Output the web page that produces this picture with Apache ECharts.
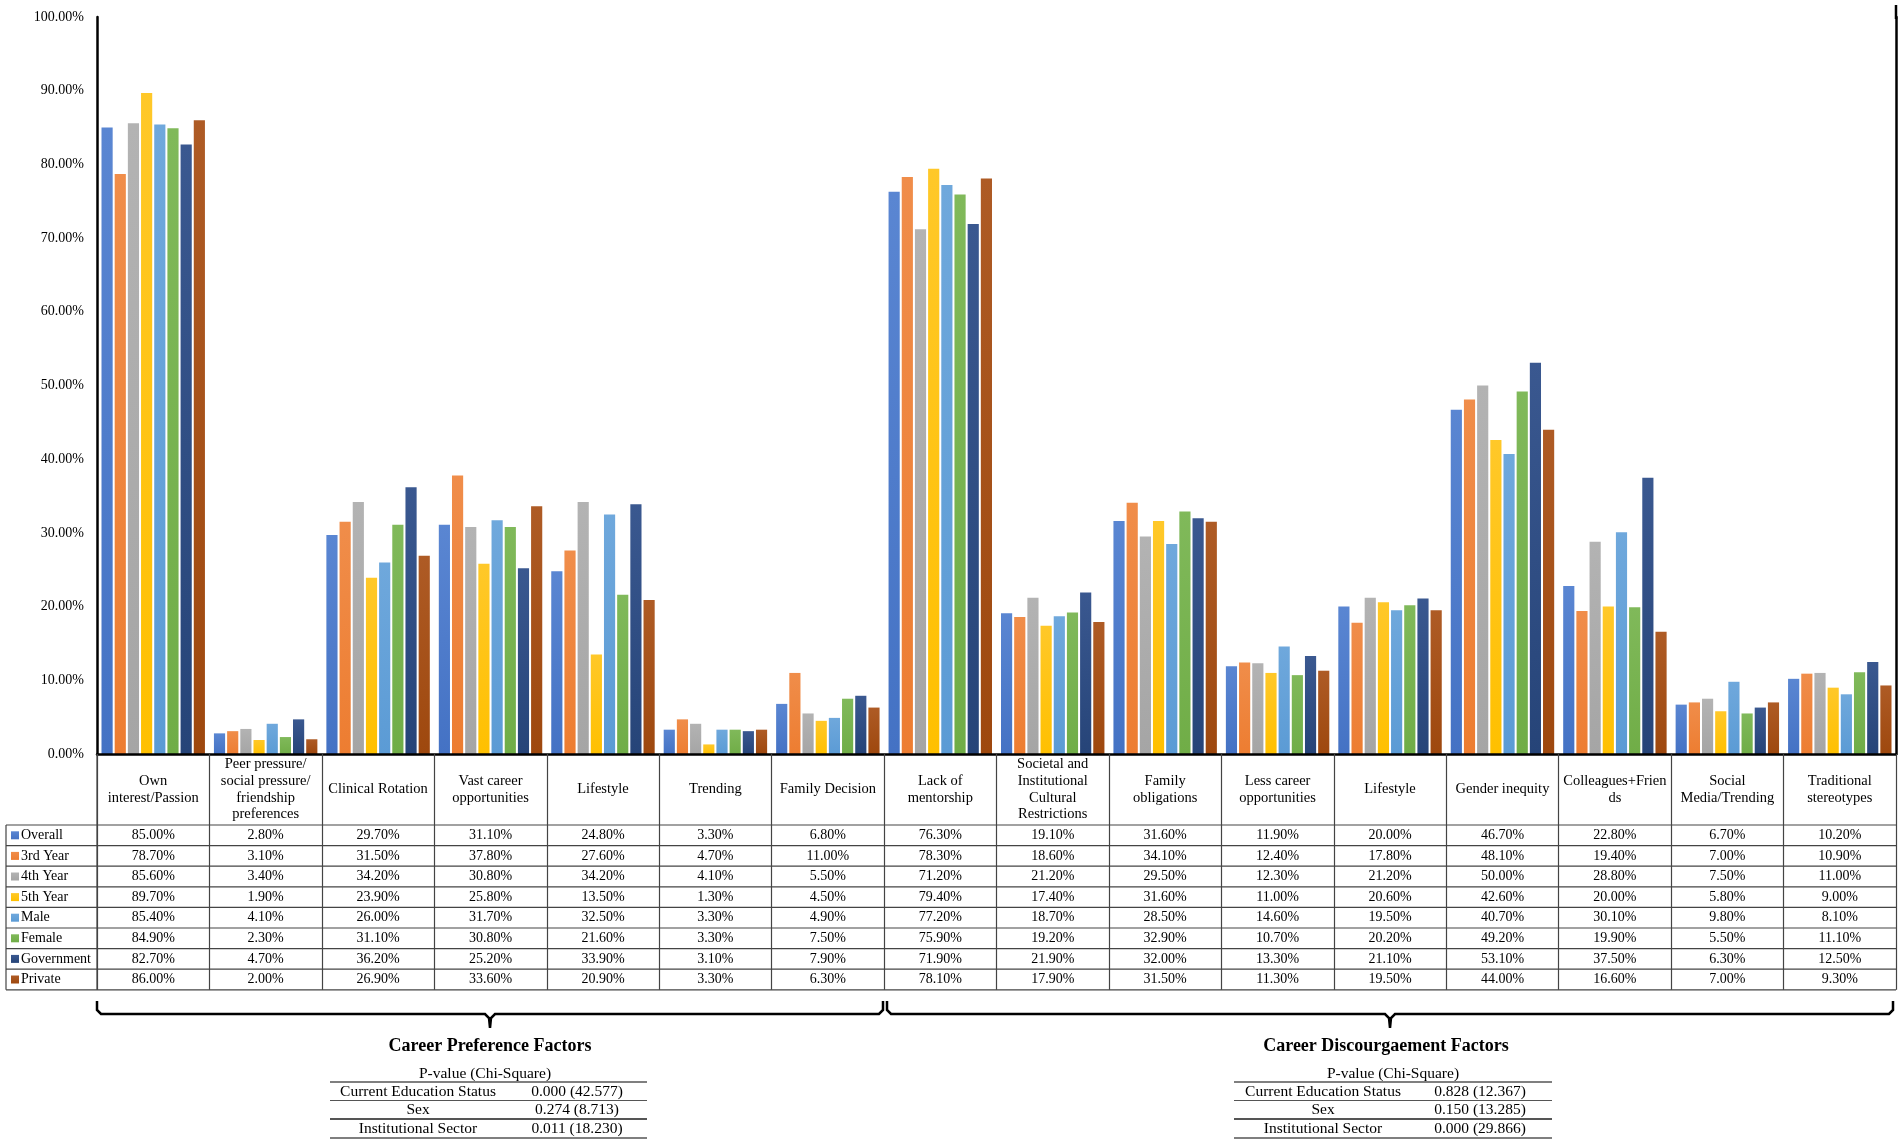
<!DOCTYPE html>
<html>
<head>
<meta charset="utf-8">
<script src="https://cdn.jsdelivr.net/npm/echarts@6/dist/echarts.min.js"></script>
<style>
html,body{margin:0;padding:0;background:#fff;}
#main{width:1902px;height:1145px;}
</style>
</head>
<body>
<div id="main"></div>
<script>
// ---------------- DATA ----------------
var categories = [
  "Own\ninterest/Passion",
  "Peer pressure/\nsocial pressure/\nfriendship\npreferences",
  "Clinical Rotation",
  "Vast career\nopportunities",
  "Lifestyle",
  "Trending",
  "Family Decision",
  "Lack of\nmentorship",
  "Societal and\nInstitutional\nCultural\nRestrictions",
  "Family\nobligations",
  "Less career\nopportunities",
  "Lifestyle",
  "Gender inequity",
  "Colleagues+Frien\nds",
  "Social\nMedia/Trending",
  "Traditional\nstereotypes"
];
var seriesNames = ["Overall", "3rd Year", "4th Year", "5th Year", "Male", "Female", "Government", "Private"];
var overall    = [85.00, 2.80, 29.70, 31.10, 24.80, 3.30, 6.80, 76.30, 19.10, 31.60, 11.90, 20.00, 46.70, 22.80, 6.70, 10.20];
var year3      = [78.70, 3.10, 31.50, 37.80, 27.60, 4.70, 11.00, 78.30, 18.60, 34.10, 12.40, 17.80, 48.10, 19.40, 7.00, 10.90];
var year4      = [85.60, 3.40, 34.20, 30.80, 34.20, 4.10, 5.50, 71.20, 21.20, 29.50, 12.30, 21.20, 50.00, 28.80, 7.50, 11.00];
var year5      = [89.70, 1.90, 23.90, 25.80, 13.50, 1.30, 4.50, 79.40, 17.40, 31.60, 11.00, 20.60, 42.60, 20.00, 5.80, 9.00];
var male       = [85.40, 4.10, 26.00, 31.70, 32.50, 3.30, 4.90, 77.20, 18.70, 28.50, 14.60, 19.50, 40.70, 30.10, 9.80, 8.10];
var female     = [84.90, 2.30, 31.10, 30.80, 21.60, 3.30, 7.50, 75.90, 19.20, 32.90, 10.70, 20.20, 49.20, 19.90, 5.50, 11.10];
var government = [82.70, 4.70, 36.20, 25.20, 33.90, 3.10, 7.90, 71.90, 21.90, 32.00, 13.30, 21.10, 53.10, 37.50, 6.30, 12.50];
var privateSec = [86.00, 2.00, 26.90, 33.60, 20.90, 3.30, 6.30, 78.10, 17.90, 31.50, 11.30, 19.50, 44.00, 16.60, 7.00, 9.30];
var yTicks = [0, 10, 20, 30, 40, 50, 60, 70, 80, 90, 100];

var groupTitles = ["Career Preference Factors", "Career Discourgaement Factors"];
var pHeader = "P-value (Chi-Square)";
var pLabels = ["Current Education Status", "Sex", "Institutional Sector"];
var pValuesPref = ["0.000 (42.577)", "0.274 (8.713)", "0.011 (18.230)"];
var pValuesDisc = ["0.828 (12.367)", "0.150 (13.285)", "0.000 (29.866)"];

// ---------------- STYLE ----------------
var allSeries = [overall, year3, year4, year5, male, female, government, privateSec];
var baseColors = ["#4472C4", "#ED7D31", "#A5A5A5", "#FFC000", "#5B9BD5", "#70AD47", "#264478", "#9E480E"];
var topColors  = ["#5A86D2", "#F08D4A", "#B3B3B3", "#FFC829", "#6FA8DC", "#80B95A", "#3A5890", "#AE5B25"];
var FONT = "Liberation Serif";

var chart = echarts.init(document.getElementById('main'), null, {renderer: 'canvas'});

var GRID_LEFT = 97, GRID_RIGHT = 6, GRID_TOP = 17, GRID_BOTTOM_Y = 754;
var HEADER_H = 71, ROW_H = 20.6;
var TABLE_TOP = GRID_BOTTOM_Y + HEADER_H; // 825
var TABLE_BOTTOM = TABLE_TOP + ROW_H * 8;

var xAxes = [{
  type: 'category',
  data: categories,
  gridIndex: 0,
  position: 'bottom',
  boundaryGap: true,
  axisLine: {show: true, lineStyle: {color: '#000', width: 2.5}},
  axisTick: {show: true, interval: 0, length: TABLE_BOTTOM - GRID_BOTTOM_Y, lineStyle: {color: '#444', width: 1.2}},
  axisLabel: {
    interval: 0, margin: HEADER_H / 2, verticalAlign: 'middle', align: 'center',
    fontFamily: FONT, fontSize: 14.5, lineHeight: 16.6, color: '#000'
  },
  z: 5
}];
for (var r = 0; r < 8; r++) {
  (function (rowIdx) {
    xAxes.push({
      type: 'category',
      data: categories,
      gridIndex: 0,
      position: 'bottom',
      offset: HEADER_H + rowIdx * ROW_H,
      axisLine: {show: false},
      axisTick: {show: false},
      axisLabel: {
        interval: 0, margin: ROW_H / 2, verticalAlign: 'middle', align: 'center',
        fontFamily: FONT, fontSize: 14, color: '#000',
        formatter: function (v, idx) { return allSeries[rowIdx][idx].toFixed(2) + '%'; }
      }
    });
  })(r);
}

var series = seriesNames.map(function (name, i) {
  return {
    name: name,
    type: 'bar',
    xAxisIndex: 0,
    yAxisIndex: 0,
    data: allSeries[i],
    barCategoryGap: '8%',
    barGap: '18%',
    itemStyle: {
      color: {type: 'linear', x: 0, y: 0, x2: 0, y2: 1,
        colorStops: [{offset: 0, color: topColors[i]}, {offset: 1, color: baseColors[i]}]}
    }
  };
});

// graphic: table lines, braces, titles, p-value tables
var graphics = [];
for (var k = 0; k <= 8; k++) {
  var yy = TABLE_TOP + k * ROW_H;
  graphics.push({type: 'line', shape: {x1: 6, y1: yy, x2: 1902 - GRID_RIGHT, y2: yy},
    style: {stroke: '#444', lineWidth: 1.2}, z: 10});
}
graphics.push({type: 'line', shape: {x1: 6, y1: TABLE_TOP, x2: 6, y2: TABLE_BOTTOM},
  style: {stroke: '#444', lineWidth: 1.2}, z: 10});
graphics.push({type: 'line', shape: {x1: GRID_LEFT, y1: GRID_BOTTOM_Y, x2: GRID_LEFT, y2: TABLE_BOTTOM},
  style: {stroke: '#444', lineWidth: 1.2}, z: 10});
// right frame line reaches slightly above the plot top
graphics.push({type: 'line', shape: {x1: 1902 - GRID_RIGHT, y1: 5, x2: 1902 - GRID_RIGHT, y2: GRID_TOP + 2},
  style: {stroke: '#000', lineWidth: 2.5}, z: 10});

function brace(x1, x2, yTop, yLine, yTip) {
  var c = (x1 + x2) / 2;
  return {type: 'polyline', shape: {points: [
    [x1, yTop], [x1, yLine - 4], [x1 + 4, yLine], [c - 5, yLine], [c - 1, yLine + 4], [c, yTip],
    [c + 1, yLine + 4], [c + 5, yLine], [x2 - 4, yLine], [x2, yLine - 4], [x2, yTop]
  ]}, style: {stroke: '#000', lineWidth: 2.5, fill: null}, z: 10};
}
graphics.push(brace(97, 883, 1001, 1014, 1028));
graphics.push(brace(887, 1893, 1001, 1014, 1028));

graphics.push({type: 'text', x: 490, y: 1046, style: {text: groupTitles[0], font: 'bold 18px "Liberation Serif"', fill: '#000', textAlign: 'center', textVerticalAlign: 'middle'}});
graphics.push({type: 'text', x: 1386, y: 1046, style: {text: groupTitles[1], font: 'bold 18px "Liberation Serif"', fill: '#000', textAlign: 'center', textVerticalAlign: 'middle'}});

function pTable(xl, xr, hx, labelX, valueX, vals) {
  graphics.push({type: 'text', x: hx, y: 1074, style: {text: pHeader, font: '15.5px "Liberation Serif"', fill: '#000', textAlign: 'center', textVerticalAlign: 'middle'}});
  var lineYs = [1082, 1100.5, 1119, 1138];
  var widths = [1.5, 1.2, 2.2, 1.5];
  lineYs.forEach(function (ly, i) {
    graphics.push({type: 'line', shape: {x1: xl, y1: ly, x2: xr, y2: ly}, style: {stroke: '#555', lineWidth: widths[i]}});
  });
  var rowYs = [1091.5, 1110, 1129];
  for (var i = 0; i < 3; i++) {
    graphics.push({type: 'text', x: labelX, y: rowYs[i], style: {text: pLabels[i], font: '15.5px "Liberation Serif"', fill: '#000', textAlign: 'center', textVerticalAlign: 'middle'}});
    graphics.push({type: 'text', x: valueX, y: rowYs[i], style: {text: vals[i], font: '15.5px "Liberation Serif"', fill: '#000', textAlign: 'center', textVerticalAlign: 'middle'}});
  }
}
pTable(330, 647, 485, 418, 577, pValuesPref);
pTable(1234, 1552, 1393, 1323, 1480, pValuesDisc);

var option = {
  backgroundColor: '#fff',
  animation: false,
  textStyle: {fontFamily: FONT},
  grid: {left: GRID_LEFT, right: GRID_RIGHT, top: GRID_TOP, bottom: 1145 - GRID_BOTTOM_Y, containLabel: false},
  legend: {
    data: seriesNames,
    orient: 'vertical',
    left: 11,
    top: TABLE_TOP,
    padding: 0,
    itemGap: 0,
    itemWidth: 8,
    itemHeight: 8,
    icon: 'rect',
    selectedMode: false,
    textStyle: {fontFamily: FONT, fontSize: 14, color: '#000', lineHeight: ROW_H, padding: [0, 0, 0, -3]}
  },
  xAxis: xAxes,
  yAxis: [{
    type: 'value',
    min: yTicks[0], max: yTicks[yTicks.length - 1], interval: 10,
    position: 'left',
    axisLine: {show: true, lineStyle: {color: '#000', width: 2.5}},
    axisTick: {show: false},
    splitLine: {show: false},
    axisLabel: {fontFamily: FONT, fontSize: 14, color: '#000', margin: 13,
      formatter: function (v) { return v.toFixed(2) + '%'; }}
  }, {
    type: 'value',
    min: yTicks[0], max: yTicks[yTicks.length - 1], interval: 10,
    position: 'right',
    axisLine: {show: true, lineStyle: {color: '#000', width: 2.5}},
    axisTick: {show: false},
    splitLine: {show: false},
    axisLabel: {show: false}
  }],
  series: series,
  graphic: graphics
};
chart.setOption(option);
</script>
</body>
</html>
